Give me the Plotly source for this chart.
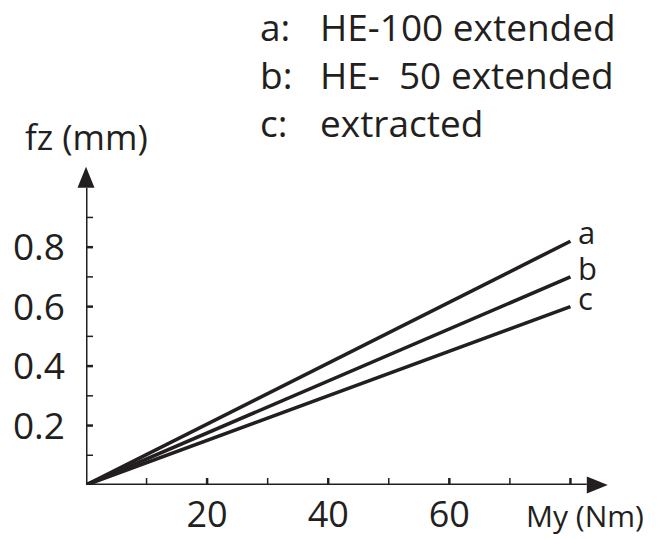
import plotly.graph_objects as go

# Deflection fz (mm) versus moment My (Nm)
curve_labels = ["a", "b", "c"]
curve_names = ["HE-100 extended", "HE-\u00a0\u00a050 extended", "extracted"]
moment_nm = [0, 80]
fz_a = [0, 0.82]
fz_b = [0, 0.70]
fz_c = [0, 0.60]

x_major = [20, 40, 60, 80]
x_minor = [10, 30, 50, 70]
x_ticklabels = ["20", "40", "60"]
y_major = [0.2, 0.4, 0.6, 0.8]
y_minor = [0.1, 0.3, 0.5, 0.7, 0.9]
y_ticklabels = ["0.2", "0.4", "0.6", "0.8"]

INK = "#231f20"
FONT = "Open Sans"
W, H = 662, 539
ML, MR, MT, MB = 86, 31, 158, 54
X_RANGE = [0, 90]
Y_RANGE = [0, 1.1]
X_AXIS_END, Y_AXIS_END = 82.7, 1.0
PLOT_W, PLOT_H = W - ML - MR, H - MT - MB


def px(xp):
    return (xp - ML) / PLOT_W


def py(yp):
    return (H - MB - yp) / PLOT_H


def xdata_to_paper(v):
    return (v - X_RANGE[0]) / (X_RANGE[1] - X_RANGE[0])


def ydata_to_paper(v):
    return (v - Y_RANGE[0]) / (Y_RANGE[1] - Y_RANGE[0])


fig = go.Figure()
for ys, lab in zip([fz_a, fz_b, fz_c], curve_labels):
    fig.add_trace(go.Scatter(x=moment_nm, y=ys, mode="lines",
                             line=dict(color=INK, width=3.6),
                             name=lab, showlegend=False, hoverinfo="skip"))

shapes = []
# axis lines
shapes.append(dict(type="line", xref="x", yref="y", x0=0, y0=0, x1=X_AXIS_END, y1=0,
                   line=dict(color=INK, width=3)))
shapes.append(dict(type="line", xref="x", yref="y", x0=0, y0=0, x1=0, y1=Y_AXIS_END,
                   line=dict(color=INK, width=3)))

# arrowheads (half-width 8.5 px, length 21 px) in paper units
hw_x, hw_y = 8.5 / PLOT_W, 8.5 / PLOT_H
len_x, len_y = 21 / PLOT_W, 21 / PLOT_H
bx, by0 = xdata_to_paper(X_AXIS_END), ydata_to_paper(0)
shapes.append(dict(type="path", xref="paper", yref="paper",
                   path=f"M {bx},{by0 - hw_y} L {bx},{by0 + hw_y} L {bx + len_x},{by0} Z",
                   fillcolor=INK, line=dict(color=INK, width=0)))
bx0, by = xdata_to_paper(0), ydata_to_paper(Y_AXIS_END)
shapes.append(dict(type="path", xref="paper", yref="paper",
                   path=f"M {bx0 - hw_x},{by} L {bx0 + hw_x},{by} L {bx0},{by + len_y} Z",
                   fillcolor=INK, line=dict(color=INK, width=0)))

# ticks: majors cross the axis, minors sit on the inner side
for v in x_major:
    shapes.append(dict(type="line", xref="x", yref="y", ysizemode="pixel", yanchor=0,
                       x0=v, x1=v, y0=-8, y1=7, line=dict(color=INK, width=2.5)))
for v in x_minor:
    shapes.append(dict(type="line", xref="x", yref="y", ysizemode="pixel", yanchor=0,
                       x0=v, x1=v, y0=0, y1=7, line=dict(color=INK, width=1.5)))
for v in y_major:
    shapes.append(dict(type="line", xref="x", yref="y", xsizemode="pixel", xanchor=0,
                       y0=v, y1=v, x0=-8, x1=7, line=dict(color=INK, width=2.5)))
for v in y_minor:
    shapes.append(dict(type="line", xref="x", yref="y", xsizemode="pixel", xanchor=0,
                       y0=v, y1=v, x0=0, x1=7, line=dict(color=INK, width=1.5)))

annotations = []
# curve end labels
for ys, lab in zip([fz_a, fz_b, fz_c], curve_labels):
    annotations.append(dict(x=moment_nm[-1], y=ys[-1], xref="x", yref="y", text=lab,
                            showarrow=False, xanchor="left", yanchor="middle",
                            xshift=6, yshift=9,
                            font=dict(family=FONT, size=31, color=INK)))
# key
for i, (lab, name) in enumerate(zip(curve_labels, curve_names)):
    yc = 26 + i * 48
    annotations.append(dict(x=px(258), y=py(yc), xref="paper", yref="paper",
                            text=lab + ":", showarrow=False, xanchor="left", yanchor="middle",
                            font=dict(family=FONT, size=37, color=INK)))
    annotations.append(dict(x=px(318), y=py(yc), xref="paper", yref="paper",
                            text=name, showarrow=False, xanchor="left", yanchor="middle",
                            font=dict(family=FONT, size=37, color=INK)))
# axis titles
annotations.append(dict(x=px(86), y=py(137), xref="paper", yref="paper", text="fz (mm)",
                        showarrow=False, xanchor="center", yanchor="middle",
                        font=dict(family=FONT, size=35, color=INK)))
annotations.append(dict(x=px(585), y=py(515), xref="paper", yref="paper", text="My (Nm)",
                        showarrow=False, xanchor="center", yanchor="middle",
                        font=dict(family=FONT, size=30, color=INK)))

fig.update_layout(
    width=W, height=H,
    margin=dict(l=ML, r=MR, t=MT, b=MB, pad=0, autoexpand=False),
    paper_bgcolor="white", plot_bgcolor="white",
    shapes=shapes, annotations=annotations,
    xaxis=dict(range=X_RANGE, showgrid=False, zeroline=False, showline=False,
               automargin=False, fixedrange=True,
               tickvals=[float(t) for t in x_ticklabels],
               ticktext=x_ticklabels, ticks="", ticklabelstandoff=5,
               tickfont=dict(family=FONT, size=36, color=INK)),
    yaxis=dict(range=Y_RANGE, showgrid=False, zeroline=False, showline=False,
               automargin=False, fixedrange=True,
               tickvals=[float(t) for t in y_ticklabels],
               ticktext=y_ticklabels, ticks="", ticklabelstandoff=20,
               tickfont=dict(family=FONT, size=37, color=INK)),
)

fig.write_html("out.html", config={"displayModeBar": False})
